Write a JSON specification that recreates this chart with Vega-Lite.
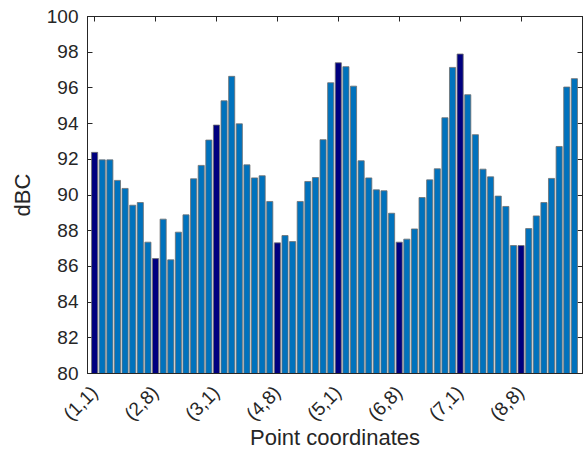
{
  "$schema": "https://vega.github.io/schema/vega-lite/v6.json",
  "width": 495,
  "height": 357,
  "autosize": "none",
  "padding": {"left": 87, "top": 16, "right": 2, "bottom": 87},
  "background": "white",
  "config": {
    "view": {"stroke": "#262626", "strokeWidth": 1},
    "font": "Liberation Sans",
    "axis": {
      "labelFont": "Liberation Sans",
      "titleFont": "Liberation Sans",
      "labelColor": "#262626",
      "titleColor": "#262626",
      "domainColor": "#262626",
      "tickColor": "#262626",
      "labelFontSize": 19,
      "titleFontSize": 22,
      "titleFontWeight": "normal",
      "grid": false
    }
  },
  "data": {
    "values": [
      {"i": 1, "coord": "(1,1)", "first": "yes", "dBC": 92.36},
      {"i": 2, "coord": "(1,2)", "first": "no", "dBC": 91.94},
      {"i": 3, "coord": "(1,3)", "first": "no", "dBC": 91.94},
      {"i": 4, "coord": "(1,4)", "first": "no", "dBC": 90.79},
      {"i": 5, "coord": "(1,5)", "first": "no", "dBC": 90.34},
      {"i": 6, "coord": "(1,6)", "first": "no", "dBC": 89.40},
      {"i": 7, "coord": "(1,7)", "first": "no", "dBC": 89.55},
      {"i": 8, "coord": "(1,8)", "first": "no", "dBC": 87.33},
      {"i": 9, "coord": "(2,8)", "first": "yes", "dBC": 86.41},
      {"i": 10, "coord": "(2,7)", "first": "no", "dBC": 88.62},
      {"i": 11, "coord": "(2,6)", "first": "no", "dBC": 86.34},
      {"i": 12, "coord": "(2,5)", "first": "no", "dBC": 87.89},
      {"i": 13, "coord": "(2,4)", "first": "no", "dBC": 88.86},
      {"i": 14, "coord": "(2,3)", "first": "no", "dBC": 90.88},
      {"i": 15, "coord": "(2,2)", "first": "no", "dBC": 91.63},
      {"i": 16, "coord": "(2,1)", "first": "no", "dBC": 93.05},
      {"i": 17, "coord": "(3,1)", "first": "yes", "dBC": 93.89},
      {"i": 18, "coord": "(3,2)", "first": "no", "dBC": 95.25},
      {"i": 19, "coord": "(3,3)", "first": "no", "dBC": 96.62},
      {"i": 20, "coord": "(3,4)", "first": "no", "dBC": 93.96},
      {"i": 21, "coord": "(3,5)", "first": "no", "dBC": 91.66},
      {"i": 22, "coord": "(3,6)", "first": "no", "dBC": 90.93},
      {"i": 23, "coord": "(3,7)", "first": "no", "dBC": 91.05},
      {"i": 24, "coord": "(3,8)", "first": "no", "dBC": 89.61},
      {"i": 25, "coord": "(4,8)", "first": "yes", "dBC": 87.29},
      {"i": 26, "coord": "(4,7)", "first": "no", "dBC": 87.70},
      {"i": 27, "coord": "(4,6)", "first": "no", "dBC": 87.36},
      {"i": 28, "coord": "(4,5)", "first": "no", "dBC": 89.61},
      {"i": 29, "coord": "(4,4)", "first": "no", "dBC": 90.73},
      {"i": 30, "coord": "(4,3)", "first": "no", "dBC": 90.95},
      {"i": 31, "coord": "(4,2)", "first": "no", "dBC": 93.07},
      {"i": 32, "coord": "(4,1)", "first": "no", "dBC": 96.26},
      {"i": 33, "coord": "(5,1)", "first": "yes", "dBC": 97.38},
      {"i": 34, "coord": "(5,2)", "first": "no", "dBC": 97.16},
      {"i": 35, "coord": "(5,3)", "first": "no", "dBC": 96.07},
      {"i": 36, "coord": "(5,4)", "first": "no", "dBC": 91.89},
      {"i": 37, "coord": "(5,5)", "first": "no", "dBC": 90.93},
      {"i": 38, "coord": "(5,6)", "first": "no", "dBC": 90.26},
      {"i": 39, "coord": "(5,7)", "first": "no", "dBC": 90.21},
      {"i": 40, "coord": "(5,8)", "first": "no", "dBC": 88.95},
      {"i": 41, "coord": "(6,8)", "first": "yes", "dBC": 87.33},
      {"i": 42, "coord": "(6,7)", "first": "no", "dBC": 87.50},
      {"i": 43, "coord": "(6,6)", "first": "no", "dBC": 88.07},
      {"i": 44, "coord": "(6,5)", "first": "no", "dBC": 89.83},
      {"i": 45, "coord": "(6,4)", "first": "no", "dBC": 90.82},
      {"i": 46, "coord": "(6,3)", "first": "no", "dBC": 91.44},
      {"i": 47, "coord": "(6,2)", "first": "no", "dBC": 94.30},
      {"i": 48, "coord": "(6,1)", "first": "no", "dBC": 97.12},
      {"i": 49, "coord": "(7,1)", "first": "yes", "dBC": 97.87},
      {"i": 50, "coord": "(7,2)", "first": "no", "dBC": 95.59},
      {"i": 51, "coord": "(7,3)", "first": "no", "dBC": 93.35},
      {"i": 52, "coord": "(7,4)", "first": "no", "dBC": 91.42},
      {"i": 53, "coord": "(7,5)", "first": "no", "dBC": 90.99},
      {"i": 54, "coord": "(7,6)", "first": "no", "dBC": 89.91},
      {"i": 55, "coord": "(7,7)", "first": "no", "dBC": 89.33},
      {"i": 56, "coord": "(7,8)", "first": "no", "dBC": 87.14},
      {"i": 57, "coord": "(8,8)", "first": "yes", "dBC": 87.14},
      {"i": 58, "coord": "(8,7)", "first": "no", "dBC": 88.09},
      {"i": 59, "coord": "(8,6)", "first": "no", "dBC": 88.80},
      {"i": 60, "coord": "(8,5)", "first": "no", "dBC": 89.55},
      {"i": 61, "coord": "(8,4)", "first": "no", "dBC": 90.90},
      {"i": 62, "coord": "(8,3)", "first": "no", "dBC": 92.69},
      {"i": 63, "coord": "(8,2)", "first": "no", "dBC": 96.02},
      {"i": 64, "coord": "(8,1)", "first": "no", "dBC": 96.49}
    ]
  },
  "layer": [
    {
      "mark": {"type": "bar", "stroke": "#6e6e6e", "strokeWidth": 0.8, "clip": true},
      "encoding": {
        "x": {
          "field": "coord",
          "type": "ordinal",
          "sort": {"field": "i"},
          "scale": {"paddingInner": 0.2, "paddingOuter": 0.6},
          "axis": {
            "orient": "bottom",
            "title": "Point coordinates",
            "values": ["(1,1)", "(2,8)", "(3,1)", "(4,8)", "(5,1)", "(6,8)", "(7,1)", "(8,8)"],
            "labelAngle": -45,
            "labelAlign": "right",
            "labelBaseline": "middle",
            "ticks": false,
            "labelPadding": 16,
            "titlePadding": 4
          }
        },
        "y": {
          "field": "dBC",
          "type": "quantitative",
          "scale": {"domain": [80, 100], "nice": false, "zero": false},
          "axis": {
            "orient": "left",
            "title": "dBC",
            "values": [80, 82, 84, 86, 88, 90, 92, 94, 96, 98, 100],
            "tickSize": -5,
            "labelPadding": 14,
            "titlePadding": 12
          }
        },
        "color": {
          "field": "first",
          "type": "nominal",
          "scale": {"domain": ["yes", "no"], "range": ["#00007f", "#0072bd"]},
          "legend": null
        }
      }
    },
    {
      "mark": {"type": "bar", "opacity": 0},
      "encoding": {
        "x": {
          "field": "coord",
          "type": "ordinal",
          "sort": {"field": "i"},
          "axis": {
            "orient": "top",
            "title": null,
            "labels": false,
            "values": ["(1,1)", "(2,8)", "(3,1)", "(4,8)", "(5,1)", "(6,8)", "(7,1)", "(8,8)"],
            "tickSize": -5
          }
        },
        "y": {
          "field": "dBC",
          "type": "quantitative",
          "axis": {
            "orient": "right",
            "title": null,
            "labels": false,
            "values": [80, 82, 84, 86, 88, 90, 92, 94, 96, 98, 100],
            "tickSize": -5
          }
        }
      }
    }
  ],
  "resolve": {"axis": {"x": "independent", "y": "independent"}}
}
